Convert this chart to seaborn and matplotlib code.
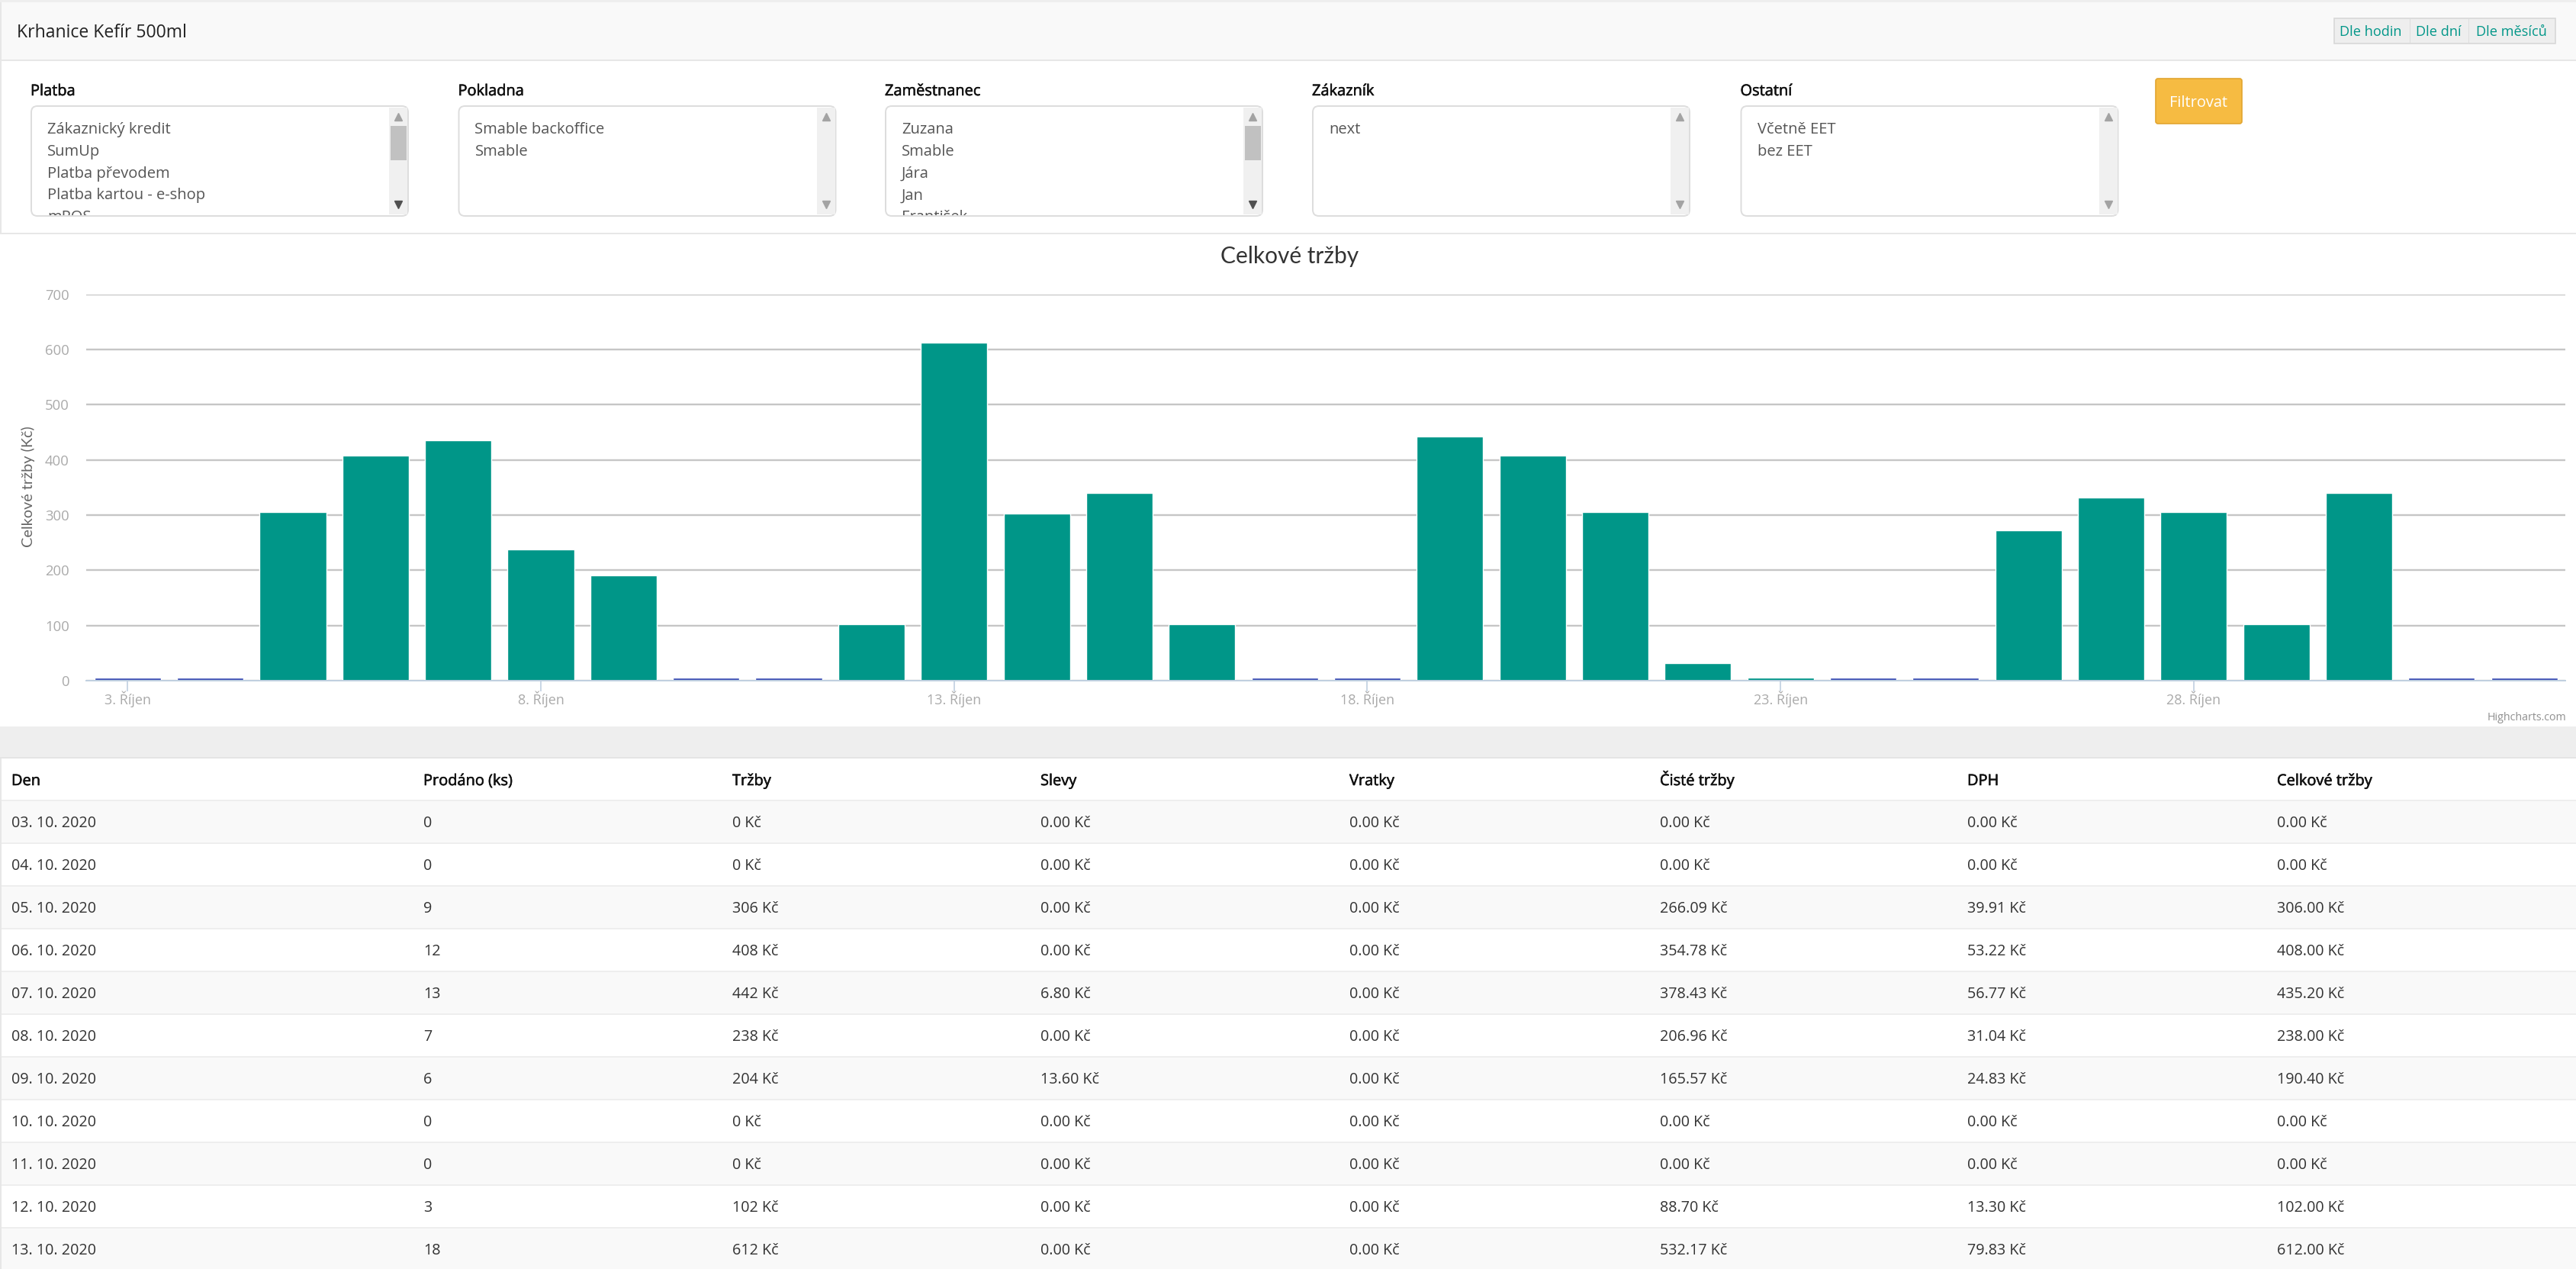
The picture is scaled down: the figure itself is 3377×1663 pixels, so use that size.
#%%
import numpy as np
import pandas as pd
import seaborn as sns
import matplotlib.pyplot as plt
import matplotlib.patheffects as pe
from matplotlib.patches import FancyBboxPatch, Rectangle

sns.set_theme(style="white")
plt.rcParams['font.family'] = ['Open Sans', 'DejaVu Sans']

# chart data
days = ['3', '4', '5', '6', '7', '8', '9', '10', '11', '12', '13', '14', '15', '16', '17',
        '18', '19', '20', '21', '22', '23', '24', '25', '26', '27', '28', '29', '30', '31', '1']
totals = [0, 0, 306, 408, 435.2, 238, 190.4, 0, 0, 102, 612, 303, 340, 102, 0,
          0, 442, 408, 306, 32, 1, 0, 0, 272, 332, 306, 102, 340, 0, 0]
y_ticks = [0, 100, 200, 300, 400, 500, 600, 700]
x_tick_days = ['3', '8', '13', '18', '23', '28']
min_point = 5  # zero days still get a thin bar

# filter boxes
filter_names = ['Platba', 'Pokladna', 'Zaměstnanec', 'Zákazník', 'Ostatní']
filter_items = [['Zákaznický kredit', 'SumUp', 'Platba převodem', 'Platba kartou - e-shop', 'mPOS'],
                ['Smable backoffice', 'Smable'],
                ['Zuzana', 'Smable', 'Jára', 'Jan', 'František'],
                ['next'],
                ['Včetně EET', 'bez EET']]
filter_has_thumb = [True, False, True, False, False]
period_buttons = ['Dle hodin', 'Dle dní', 'Dle měsíců']

# table
col_names = ['Den', 'Prodáno (ks)', 'Tržby', 'Slevy', 'Vratky', 'Čisté tržby', 'DPH', 'Celkové tržby']
col_den = ['03. 10. 2020', '04. 10. 2020', '05. 10. 2020', '06. 10. 2020', '07. 10. 2020', '08. 10. 2020',
           '09. 10. 2020', '10. 10. 2020', '11. 10. 2020', '12. 10. 2020', '13. 10. 2020']
col_ks = ['0', '0', '9', '12', '13', '7', '6', '0', '0', '3', '18']
col_trzby = ['0 Kč', '0 Kč', '306 Kč', '408 Kč', '442 Kč', '238 Kč', '204 Kč', '0 Kč', '0 Kč', '102 Kč', '612 Kč']
col_slevy = ['0.00 Kč', '0.00 Kč', '0.00 Kč', '0.00 Kč', '6.80 Kč', '0.00 Kč', '13.60 Kč', '0.00 Kč', '0.00 Kč', '0.00 Kč', '0.00 Kč']
col_vratky = ['0.00 Kč'] * 11
col_ciste = ['0.00 Kč', '0.00 Kč', '266.09 Kč', '354.78 Kč', '378.43 Kč', '206.96 Kč', '165.57 Kč', '0.00 Kč', '0.00 Kč', '88.70 Kč', '532.17 Kč']
col_dph = ['0.00 Kč', '0.00 Kč', '39.91 Kč', '53.22 Kč', '56.77 Kč', '31.04 Kč', '24.83 Kč', '0.00 Kč', '0.00 Kč', '13.30 Kč', '79.83 Kč']
col_celkem = ['0.00 Kč', '0.00 Kč', '306.00 Kč', '408.00 Kč', '435.20 Kč', '238.00 Kč', '190.40 Kč', '0.00 Kč', '0.00 Kč', '102.00 Kč', '612.00 Kč']

W, H = 3377, 1663
fig = plt.figure(figsize=(W / 100, H / 100), dpi=100, facecolor='white')

# page layer in pixel coordinates
bg = fig.add_axes([0, 0, 1, 1])
bg.set_xlim(0, W)
bg.set_ylim(H, 0)
bg.axis('off')


def box(x0, y0, x1, y1, color, edge='none', lw=0, z=1):
    bg.add_patch(Rectangle((x0, y0), x1 - x0, y1 - y0, fc=color, ec=edge, lw=lw, zorder=z))


def strong_text(x, y, s, size, color='#111111'):
    # semibold look, the installed weights jump straight to bold
    bg.text(x, y, s, fontsize=size, color=color, va='baseline', zorder=3,
            path_effects=[pe.withStroke(linewidth=0.4, foreground=color)])


#%% top panel
box(0, 0, W, 3, '#eeeeee')
box(0, 3, W, 79, '#f9f9f9')
box(0, 78, W, 80, '#e7e7e7')
box(0, 305, W, 307, '#e7e7e7')
box(0, 3, 1.5, 306, '#e7e7e7')
bg.text(22, 49, 'Krhanice Kefír 500ml', fontsize=16.6, color='#222222', va='baseline')

# period buttons
box(3060, 24, 3350, 57, '#eeeeee', edge='#d8d8d8', lw=1.2)
for x in [3159, 3236]:
    box(x, 25, x + 1, 56, '#dddddd', z=2)
for x, label in zip([3108, 3197, 3292], period_buttons):
    bg.text(x, 47, label, fontsize=13.1, color='#009688', ha='center', va='baseline', zorder=3)

# filter boxes
box_left = [41, 601.5, 1161, 1721, 2282.5]
box_width = 494
for name, items, thumb, x0 in zip(filter_names, filter_items, filter_has_thumb, box_left):
    strong_text(x0 - 1, 125, name, 14.4)
    frame = FancyBboxPatch((x0, 139), box_width, 144, boxstyle='round,pad=0,rounding_size=8',
                           fc='white', ec='#dddddd', lw=1.4, zorder=2)
    bg.add_patch(frame)
    box(x0 + box_width - 25, 141, x0 + box_width - 1, 281, '#f0f0f0', z=3)
    arrow_col = '#505050' if thumb else '#a3a3a3'
    bg.plot([x0 + box_width - 13], [153], marker='^', ms=7, color='#a3a3a3', zorder=4)
    bg.plot([x0 + box_width - 13], [268], marker='v', ms=7, color=arrow_col, zorder=4)
    if thumb:
        box(x0 + box_width - 23.5, 165, x0 + box_width - 2.5, 210, '#c1c1c1', z=4)
    for i, item in enumerate(items):
        t = bg.text(x0 + 21, 175 + i * 28.8, item, fontsize=14.5, color='#555555', va='baseline', zorder=3)
        t.set_clip_on(True)
        t.set_clip_path(Rectangle((x0, 140), box_width - 25, 142, transform=bg.transData))

# filter button
bg.add_patch(FancyBboxPatch((2826, 103), 113, 59, boxstyle='round,pad=0,rounding_size=3',
                            fc='#f6bb42', ec='#e2a52f', lw=1.2, zorder=2))
bg.text(2882.5, 140, 'Filtrovat', fontsize=14.4, color='white', ha='center', va='baseline', zorder=3)

#%% chart
df = pd.DataFrame({'den': days, 'total': totals})
df['shown'] = df['total'].clip(lower=min_point)
bar_colors = ['#3f51b5' if v == 0 else '#009688' for v in df['total']]

left, right, top, bottom = 113.2, 3363.4, 385.5, 892
ax = fig.add_axes([left / W, 1 - bottom / H, (right - left) / W, (bottom - top) / H])
ax.patch.set_alpha(0)
sns.barplot(data=df, x='den', y='shown', hue='den', palette=bar_colors, legend=False,
            width=0.805, saturation=1, zorder=3, ax=ax)
ax.set_xlim(-0.5, len(days) - 0.5)
ax.set_ylim(0, 700)
ax.set_yticks(y_ticks)
ax.set_yticklabels([str(v) for v in y_ticks])
ax.set_xticks([days.index(d) for d in x_tick_days])
ax.set_xticklabels([d + '. Říjen' for d in x_tick_days])
ax.grid(axis='y', color='#c6c6c6', lw=1.7, zorder=0)
ax.set_axisbelow(True)
sns.despine(ax=ax, left=True, top=True, right=True)
ax.spines['bottom'].set_color('#c0d0e0')
ax.spines['bottom'].set_linewidth(1.4)
ax.spines['bottom'].set_zorder(5)
ax.tick_params(axis='y', length=0, pad=16, labelsize=13.3, labelcolor='#aaaaaa')
ax.tick_params(axis='x', bottom=True, length=10, width=1.2, color='#c0d0e0', pad=0,
               labelsize=13, labelcolor='#aaaaaa')
ax.set_xlabel('')
ax.set_ylabel('')

bg.text(1691, 336, 'Celkové tržby', fontsize=21.5, color='#333333', ha='center', va='center', family='Lato')
bg.text(37, 638, 'Celkové tržby (Kč)', fontsize=14.3, color='#666666', rotation=90, ha='center', va='center', family='Lato')
bg.text(3364, 940, 'Highcharts.com', fontsize=10.3, color='#909090', ha='right', va='center')

#%% table
box(0, 952, W, 993, '#eeeeee')
box(0, 992, W, 994, '#e4e4e4')
columns = [col_den, col_ks, col_trzby, col_slevy, col_vratky, col_ciste, col_dph, col_celkem]
col_x = [15, 555, 960, 1364, 1769, 2176, 2579, 2985]
row_h = 56
for x, name in zip(col_x, col_names):
    strong_text(x, 1029, name, 14.4)
for r in range(len(col_den)):
    y0 = 1049 + r * row_h
    if r % 2 == 0:
        box(0, y0, W, y0 + row_h, '#f9f9f9')
    box(0, y0 - 1, W, y0 + 0.5, '#eeeeee', z=2)
    for x, col in zip(col_x, columns):
        bg.text(x, y0 + 35, col[r], fontsize=14.2, color='#333333', va='baseline', zorder=3)
box(0, 994, 1.5, H, '#e7e7e7', z=2)

fig.savefig('out.png', dpi=100)
